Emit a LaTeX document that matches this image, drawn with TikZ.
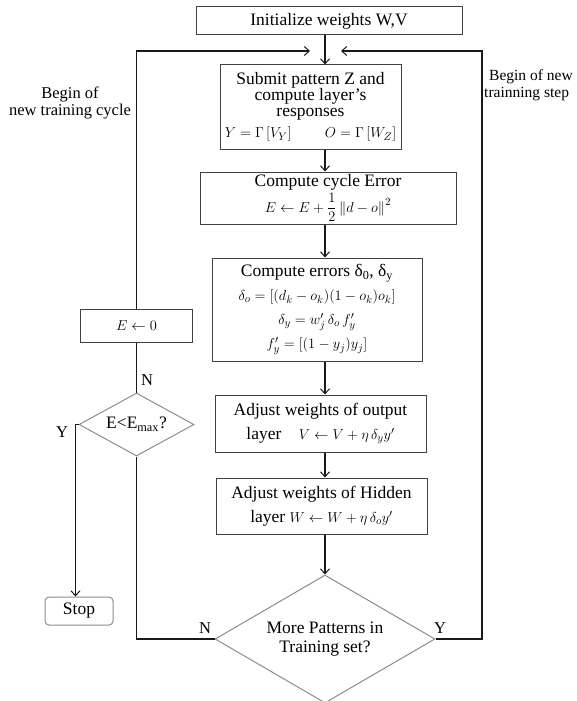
\documentclass[tikz,border=0pt]{standalone}
\usepackage{fontspec}
\setmainfont{Liberation Serif}
\usetikzlibrary{arrows.meta,shapes.geometric}
\newcommand{\bfs}{\fontsize{17.5}{16}\selectfont}
\newcommand{\wfs}{\fontsize{17.5}{24}\selectfont}
\newcommand{\mfs}{\fontsize{15.5}{16}\selectfont}
\begin{document}
\begin{tikzpicture}[x=1pt,y=-1pt,
  box/.style={draw=black!75, line width=1pt, rectangle, inner sep=0pt, align=center, font=\bfs},
  dia/.style={draw=black!45, line width=1pt, diamond, shape aspect=1.8, inner sep=0pt, align=center, font=\bfs},
  ln/.style={line width=1.1pt, draw=black!90},
  arr/.style={ln, -{Straight Barb[length=5pt,width=9pt,line width=1pt]}},
  lab/.style={font=\fontsize{16.5}{17}\selectfont, inner sep=0pt, align=center}]
\useasboundingbox (0,0) rectangle (576,701);
\coordinate (cx) at (325,0);
\coordinate (top) at (325,51);

\node[box, minimum width=266pt, minimum height=28pt] (init) at (329,21) {Initialize weights W,V};
\node[box, minimum width=181pt, minimum height=84pt] (submit) at (310.5,107)
  {Submit pattern Z and\\compute layer's\\responses\\[5pt]
   {\mfs $Y=\Gamma\left[V_Y\right]\qquad O=\Gamma\left[W_Z\right]$}};
\node[box, minimum width=256pt, minimum height=52pt] (cycle) at (328,198)
  {Compute cycle Error\\[2pt] {\mfs $E\leftarrow E+\displaystyle\frac{1}{2}\left\|d-o\right\|^2$}};
\node[box, font=\wfs, minimum width=210pt, minimum height=103pt] (errs) at (317,309.5)
  {Compute errors δ\textsubscript{0}, δ\textsubscript{y}\\
   {\mfs $\delta_o=\left[(d_k-o_k)(1-o_k)o_k\right]$}\\
   {\mfs $\delta_y=w'_j\,\delta_o\,f'_y$}\\
   {\mfs $f'_y=\left[(1-y_j)y_j\right]$}};
\node[box, font=\wfs, minimum width=211pt, minimum height=57pt] (outp) at (320.5,423.5)
  {Adjust weights of output\\layer\quad{\mfs $V\leftarrow V+\eta\,\delta_y y'$}};
\node[box, font=\wfs, minimum width=211pt, minimum height=56pt] (hid) at (321.5,506)
  {Adjust weights of Hidden\\layer\ {\mfs $W\leftarrow W+\eta\,\delta_o y'$}};
\node[dia, font=\fontsize{17.5}{19}\selectfont, minimum width=220pt, minimum height=128pt] (more) at (325,639)
  {More Patterns in\\Training set?};

\node[box, minimum width=112pt, minimum height=33pt] (ezero) at (136.5,325.5) {\mfs $E\leftarrow 0$};
\node[dia, minimum width=115pt, minimum height=63pt] (emax) at (136.5,424.5)
  {E<E\textsubscript{max}?};
\node[box, draw=black!45, rounded corners=4pt, minimum width=68pt, minimum height=28pt] (stop) at (79,611) {Stop};

\node[lab] (lcyc) at (70,103) {Begin of\\new training cycle};
\node[lab, font=\fontsize{15.5}{17}\selectfont, anchor=north west, align=left] (rstep) at (484,69) {\hspace*{5pt}Begin of new\\trainning step};

% main column
\draw[arr] (init.south -| cx) -- (submit.north -| cx);
\draw[arr] (submit.south -| cx) -- (cycle.north -| cx);
\draw[arr] (cycle.south -| cx) -- (errs.north -| cx);
\draw[arr] (errs.south -| cx) -- (outp.north -| cx);
\draw[arr] (outp.south -| cx) -- (hid.north -| cx);
\draw[arr] (hid.south -| cx) -- (more.north);

% loops
\coordinate (rc) at (482,639);
\coordinate (yx) at (75.5,0);
\draw[arr] (more.east) -- (rc) |- ([xshift=16pt]top);
\draw[ln] (more.west) -| (emax.south);
\draw[ln] (emax.north) -- (ezero.south);
\draw[arr] (ezero.north) |- ([xshift=-15pt]top);
\draw[arr] (emax.west) -- (emax.west -| yx) -- (stop.north -| yx);

% labels
\node[lab, anchor=west] (nl) at (141,380) {N};
\node[lab] (yl) at (62,432) {Y};
\node[lab] (nb) at (205,628) {N};
\node[lab] (yb) at (440,628) {Y};
\end{tikzpicture}
\end{document}
